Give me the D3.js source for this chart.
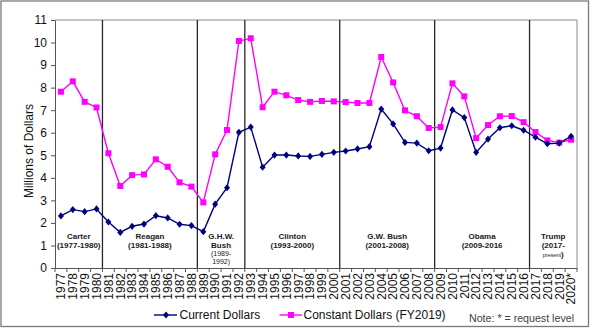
<!DOCTYPE html>
<html><head><meta charset="utf-8">
<script src="https://cdn.jsdelivr.net/npm/d3@7"></script>
<style>
html,body{margin:0;padding:0;background:#fff;}
svg text{font-family:"Liberation Sans",Arial,sans-serif;}
</style></head>
<body>
<svg id="chart" width="590" height="329"></svg>
<script>
const years = ["1977","1978","1979","1980","1981","1982","1983","1984","1985","1986","1987","1988",
  "1989","1990","1991","1992","1993","1994","1995","1996","1997","1998","1999","2000",
  "2001","2002","2003","2004","2005","2006","2007","2008","2009","2010","2011","2012",
  "2013","2014","2015","2016","2017","2018","2019","2020*"];
const currentDollars = [2.31,2.59,2.50,2.62,2.04,1.58,1.85,1.95,2.32,2.22,1.94,1.88,
  1.61,2.83,3.56,6.02,6.25,4.47,5.01,5.01,4.97,4.95,5.04,5.13,
  5.19,5.28,5.38,7.05,6.39,5.57,5.54,5.20,5.32,7.01,6.67,5.13,
  5.72,6.22,6.31,6.11,5.80,5.51,5.54,5.84];
const constantDollars = [7.82,8.28,7.37,7.12,5.09,3.64,4.12,4.15,4.82,4.49,3.80,3.61,
  2.91,5.04,6.12,10.07,10.19,7.13,7.82,7.66,7.45,7.37,7.41,7.39,
  7.36,7.32,7.32,9.36,8.23,6.99,6.73,6.21,6.25,8.19,7.61,5.76,
  6.34,6.73,6.74,6.47,6.03,5.66,5.56,5.69];
const yTicks = [0,1,2,3,4,5,6,7,8,9,10,11];
const eraStart = ["1977","1981","1989","1993","2001","2009","2017"];
const eraEnd   = ["1980","1988","1992","2000","2008","2016","2020*"];
const eraLabels = [["Carter","(1977-1980)"],["Reagan","(1981-1988)"],["G.H.W.","Bush","(1989-","1992)"],
  ["Clinton","(1993-2000)"],["G.W. Bush","(2001-2008)"],["Obama","(2009-2016"],["Trump","(2017-","present)"]];
const seriesNames = ["Current Dollars","Constant Dollars (FY2019)"];
const noteText = "Note: * = request level";

const svg = d3.select("#chart");
const L = 55, R = 577, T = 20, B = 268;
const x = d3.scaleBand().domain(years).range([L, R]).padding(0);
const y = d3.scaleLinear().domain([0, 11]).range([B, T]);
const cx = d => x(d) + x.bandwidth() / 2;

// outer border
svg.append("rect").attr("x",1).attr("y",1).attr("width",587.5).attr("height",325.5)
  .attr("fill","none").attr("stroke","#7a7a7a").attr("stroke-width",1.3);

// plot frame top/right
svg.append("path").attr("d",`M${L},${y(11)}H${R}V${B}`).attr("fill","none")
  .attr("stroke","#8c8c8c").attr("stroke-width",1);

// era separators
eraStart.slice(1).forEach(s => {
  svg.append("line").attr("x1",x(s)).attr("x2",x(s)).attr("y1",y(11)).attr("y2",B)
    .attr("stroke","#262626").attr("stroke-width",1.3);
});

// y axis
const ya = svg.append("g").attr("transform",`translate(${L},0)`)
  .call(d3.axisLeft(y).tickValues(yTicks).tickSize(4).tickSizeOuter(0).tickPadding(4));
ya.select(".domain").attr("stroke","#555");
ya.selectAll(".tick line").attr("stroke","#555");
ya.selectAll(".tick text").attr("font-size",12).attr("fill","#111")
  .attr("font-family","'Liberation Sans',Arial,sans-serif");

// x axis
const xa = svg.append("g").attr("transform",`translate(0,${B})`)
  .call(d3.axisBottom(x).tickSize(0).tickSizeOuter(0));
xa.select(".domain").attr("stroke","#555");
xa.selectAll(".tick text").attr("font-size",12).attr("fill","#111")
  .attr("font-family","'Liberation Sans',Arial,sans-serif")
  .attr("text-anchor","end").attr("transform","translate(0,5) rotate(-90)")
  .attr("x",0).attr("y",0).attr("dy","0.36em");
// boundary ticks
svg.append("g").selectAll("line").data(years.concat(["__end"])).join("line")
  .attr("x1",(d,i)=> i<years.length ? x(d) : R).attr("x2",(d,i)=> i<years.length ? x(d) : R)
  .attr("y1",B).attr("y2",B+4).attr("stroke","#555");

// y title
svg.append("text").attr("transform",`translate(32.5,151) rotate(-90)`)
  .attr("text-anchor","middle").attr("font-size",12).attr("fill","#111")
  .text("Millions of Dollars");

// era labels
eraLabels.forEach((lines, i) => {
  const mx = (x(eraStart[i]) + x(eraEnd[i]) + x.bandwidth()) / 2;
  lines.forEach((t, j) => {
    let yy = 238.7 + j * 9.3, fs = 8, fw = "bold";
    if (i === 2 && j >= 2) { fs = 7; fw = "normal"; yy = j === 2 ? 255.5 : 263.5; }
    const tx = svg.append("text").attr("x", mx).attr("y", yy).attr("text-anchor","middle")
      .attr("fill","#1a1a1a").attr("font-size", fs).attr("font-weight", fw);
    if (i === 6 && j === 2) {
      tx.attr("y", 257.3);
      tx.append("tspan").attr("font-size",5.5).attr("font-weight","normal").text(t.slice(0,-1));
      tx.append("tspan").attr("font-size",8).text(t.slice(-1));
    } else tx.text(t);
  });
});

// series
const lineGen = vals => d3.line().x((d,i)=>cx(years[i])).y(d=>y(d))(vals);
const diamond = "M0,-3.6L3,0L0,3.6L-3,0Z";
svg.append("path").attr("d", lineGen(constantDollars)).attr("fill","none")
  .attr("stroke","#ff00ff").attr("stroke-width",1.4);
svg.append("g").selectAll("rect").data(constantDollars).join("rect")
  .attr("x",(d,i)=>cx(years[i])-3).attr("y",d=>y(d)-3).attr("width",6).attr("height",6)
  .attr("fill","#ff00ff");
svg.append("path").attr("d", lineGen(currentDollars)).attr("fill","none")
  .attr("stroke","#000080").attr("stroke-width",1.4);
svg.append("g").selectAll("path").data(currentDollars).join("path")
  .attr("d",diamond).attr("transform",(d,i)=>`translate(${cx(years[i])},${y(d)})`)
  .attr("fill","#000080");

// legend
const lg = svg.append("g");
lg.append("line").attr("x1",154).attr("x2",177).attr("y1",315).attr("y2",315)
  .attr("stroke","#000080").attr("stroke-width",1.4);
lg.append("path").attr("d",diamond).attr("transform","translate(166,315)").attr("fill","#000080");
lg.append("text").attr("x",179.5).attr("y",319.3).attr("font-size",12).attr("fill","#111").text(seriesNames[0]);
lg.append("line").attr("x1",279.5).attr("x2",302).attr("y1",315).attr("y2",315)
  .attr("stroke","#ff00ff").attr("stroke-width",1.4);
lg.append("rect").attr("x",288).attr("y",312).attr("width",6).attr("height",6).attr("fill","#ff00ff");
lg.append("text").attr("x",303.5).attr("y",319.3).attr("font-size",12).attr("fill","#111").text(seriesNames[1]);

svg.append("text").attr("x",469).attr("y",322).attr("font-size",10.5)
  .attr("font-family","'Open Sans',sans-serif").attr("fill","#404040")
  .attr("textLength",105).attr("lengthAdjust","spacingAndGlyphs").text(noteText);
</script>
</body></html>
